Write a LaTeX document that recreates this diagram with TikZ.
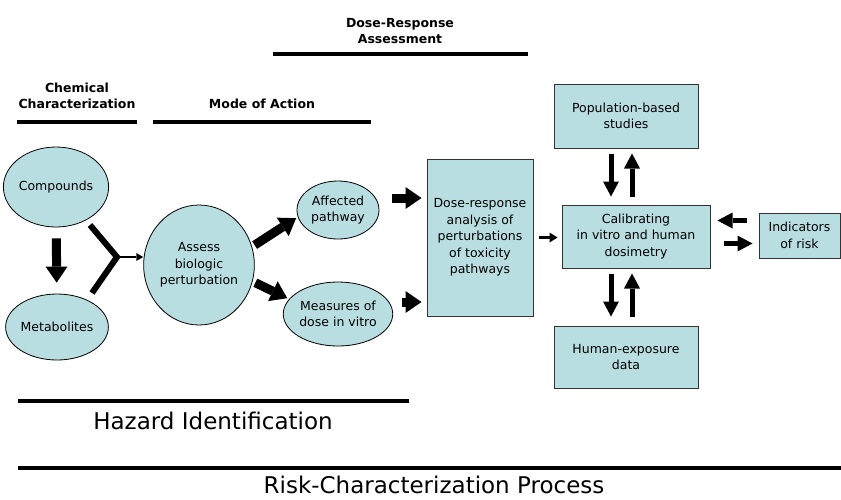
\documentclass[tikz,border=0pt]{standalone}
\usepackage{fontspec}
\setmainfont{DejaVu Sans}
\usetikzlibrary{shapes.geometric,arrows.meta}
\definecolor{cellblue}{RGB}{185,222,226}
\tikzset{
  bubble/.style={ellipse,draw=black,line width=0.8pt,fill=cellblue,inner sep=0pt,align=center,font=\fontsize{12.5}{16.5}\selectfont},
  panel/.style={rectangle,draw=black!80,line width=1pt,fill=cellblue,inner sep=0pt,align=center,font=\fontsize{12.5}{16.5}\selectfont},
  heading/.style={align=center,font=\bfseries\fontsize{12.5}{16.5}\selectfont},
  bigtitle/.style={font=\fontsize{23}{28}\selectfont},
  bar/.style={line width=4pt},
  fatarrow/.style={line width=9pt,-{Triangle[width=22pt,length=16pt,line width=0pt]}},
  midarrow/.style={line width=5pt,-{Triangle[width=16pt,length=15pt,line width=0pt]}},
  thinarrow/.style={line width=2.5pt,-{Triangle[width=10pt,length=8pt,line width=0pt]}},
}
\begin{document}
\begin{tikzpicture}[x=1pt,y=-1pt]
  \useasboundingbox (0,0) rectangle (841,499);
  % headings
  \node[heading] (drhead) at (400,31) {Dose-Response\\Assessment};
  \draw[bar] (273,54) -- (528,54);
  \node[heading] (chemhead) at (77,96) {Chemical\\Characterization};
  \draw[bar] (17,122) -- (137,122);
  \node[heading] (moahead) at (262,104) {Mode of Action};
  \draw[bar] (153,122) -- (371,122);
  % chemicals
  \node[bubble,minimum width=88pt,minimum height=80pt] (compounds) at (56,187) {Compounds};
  \node[bubble,minimum width=92pt,minimum height=66pt] (metabolites) at (57,327) {Metabolites};
  % mode of action
  \node[bubble,minimum width=106pt,minimum height=120pt] (assess) at (199,265) {Assess\\biologic\\perturbation};
  \node[bubble,minimum width=82pt,minimum height=58pt] (affected) at (338,210) {Affected\\pathway};
  \node[bubble,minimum width=90pt,minimum height=64pt] (measures) at (338,314) {Measures of\\dose in vitro};
  % dose-response boxes
  \node[panel,minimum width=106pt,minimum height=157pt] (dose) at (480,237.5) {Dose-response\\analysis of\\perturbations\\of toxicity\\pathways};
  \node[panel,minimum width=148pt,minimum height=63pt] (calib) at (636,236.5) {Calibrating\\in vitro and human\\dosimetry};
  \node[panel,minimum width=144pt,minimum height=64pt] (popstudy) at (626,116) {Population-based\\studies};
  \node[panel,minimum width=144pt,minimum height=62pt] (exposure) at (626,357) {Human-exposure\\data};
  \node[panel,minimum width=81pt,minimum height=45pt] (indic) at (799.5,235.5) {Indicators\\of risk};
  % merging connector
  \coordinate (yup) at (90,225);
  \coordinate (ylo) at (92,293);
  \coordinate (join) at (117,257);
  \draw[line width=6pt,miter limit=4] (yup) -- (join) -- (ylo);
  \draw[line width=1.8pt,-{Triangle[width=8pt,length=7pt,line width=0pt]}] (join) -- (join -| assess.west);
  % arrows
  \draw[fatarrow,shorten <=11pt,shorten >=11pt] (compounds) -- (metabolites);
  \draw[fatarrow,shorten <=3pt,shorten >=2pt] (assess.19) -- (affected.190);
  \draw[fatarrow,shorten <=3pt,shorten >=2pt] (assess.343) -- (measures.163);
  \draw[fatarrow,shorten <=13pt,shorten >=5pt] ([yshift=12pt]affected.east) -- ([yshift=12pt]affected.east -| dose.west);
  \draw[fatarrow,shorten <=9pt,shorten >=5pt] ([yshift=12pt]measures.east) -- ([yshift=12pt]measures.east -| dose.west);
  \draw[thinarrow,shorten <=5pt,shorten >=4pt] (dose.east) -- (dose.east -| calib.west);
  \draw[midarrow,shorten <=5pt,shorten >=8pt] ([xshift=-15pt]popstudy.south) -- ([xshift=-15pt]popstudy.south |- calib.north);
  \draw[midarrow,shorten <=8pt,shorten >=5pt] ([xshift=6pt]popstudy.south |- calib.north) -- ([xshift=6pt]popstudy.south);
  \draw[midarrow,shorten <=5pt,shorten >=9pt] ([xshift=-15pt]exposure.north |- calib.south) -- ([xshift=-15pt]exposure.north);
  \draw[midarrow,shorten <=9pt,shorten >=5pt] ([xshift=6pt]exposure.north) -- ([xshift=6pt]exposure.north |- calib.south);
  \draw[midarrow,shorten <=12pt,shorten >=7pt] ([yshift=15pt]indic.west) -- ([yshift=15pt]indic.west -| calib.east);
  \draw[midarrow,shorten <=13pt,shorten >=6pt] ([yshift=-7pt]calib.east) -- ([yshift=-7pt]calib.east -| indic.west);
  % bottom titles
  \draw[bar] (18,401) -- (409,401);
  \node[bigtitle] (hazard) at (213,421) {Hazard Identification};
  \draw[bar] (18,468) -- (841,468);
  \node[bigtitle] (risk) at (434,485) {Risk-Characterization Process};
\end{tikzpicture}
\end{document}
